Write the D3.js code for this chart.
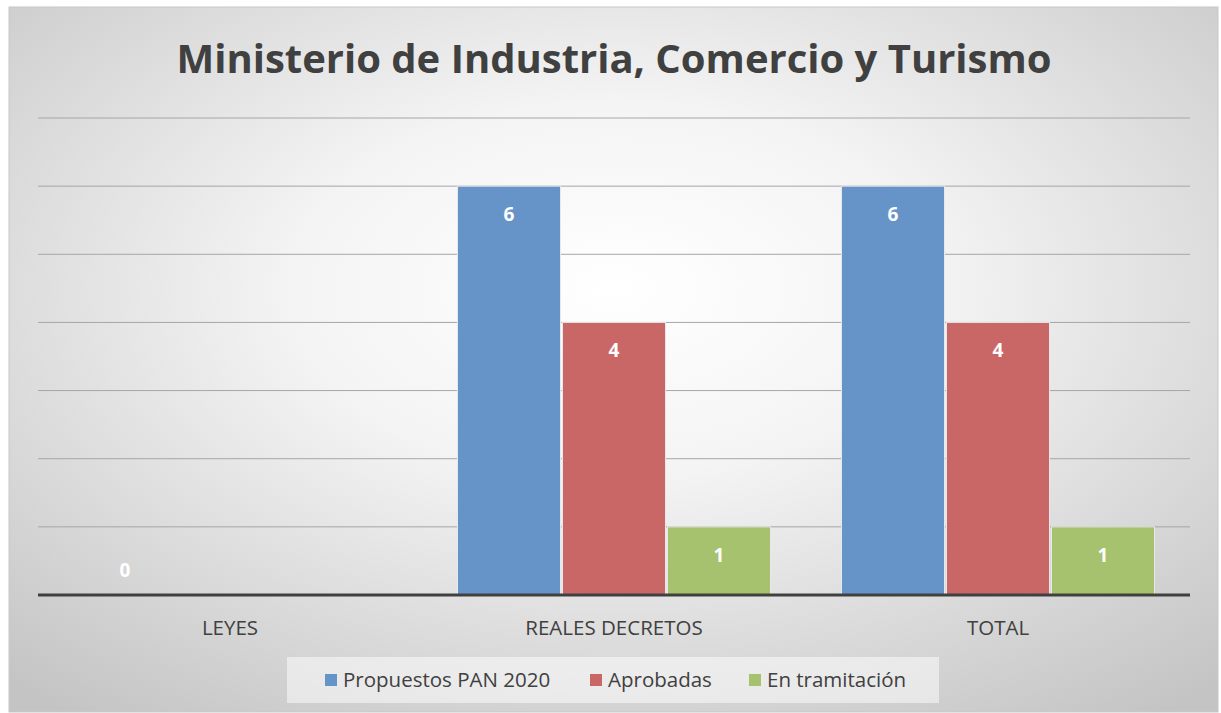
<!DOCTYPE html>
<html>
<head>
<meta charset="utf-8">
<script src="https://cdn.jsdelivr.net/npm/d3@7"></script>
<style>
  body { margin: 0; background: #fff; }
  text { font-family: "Open Sans", "Noto Sans", sans-serif; }
</style>
</head>
<body>
<script>
// chart values
var categories = ["LEYES", "REALES DECRETOS", "TOTAL"];
var seriesNames = ["Propuestos PAN 2020", "Aprobadas", "En tramitación"];
var propuestos = [0, 6, 6];
var aprobadas = [null, 4, 4];
var tramitacion = [null, 1, 1];
var yTicks = [0, 1, 2, 3, 4, 5, 6, 7];
var colors = ["#6794c8", "#c96766", "#a6c26e"];

var W = 1221, H = 713;
var svg = d3.select("body").append("svg").attr("width", W).attr("height", H);

// background gradient
var defs = svg.append("defs");
var grad = defs.append("radialGradient").attr("id", "bg")
  .attr("cx", "0.5").attr("cy", "0.4").attr("r", "0.75");
grad.append("stop").attr("offset", "0%").attr("stop-color", "#ffffff");
grad.append("stop").attr("offset", "35%").attr("stop-color", "#f4f4f4");
grad.append("stop").attr("offset", "100%").attr("stop-color", "#c4c4c4");

svg.append("rect").attr("x", 9).attr("y", 7).attr("width", 1209).attr("height", 705)
  .attr("fill", "url(#bg)").attr("stroke", "#c8c8c8").attr("stroke-width", 1);

// title
svg.append("text").attr("x", 614).attr("y", 73).attr("text-anchor", "middle")
  .attr("font-size", "40px").attr("font-weight", "bold").attr("fill", "#404040")
  .text("Ministerio de Industria, Comercio y Turismo");

var margin = {left: 38, right: 1190, top: 118, bottom: 595};

var x0 = d3.scaleBand().domain(categories).range([margin.left, margin.right]);
var x1 = d3.scaleBand().domain(seriesNames).range([0, x0.bandwidth()]).paddingInner(0.019).paddingOuter(0.338);
var y = d3.scaleLinear().domain([0, 7]).range([margin.bottom, margin.top]);

// gridlines
svg.append("g").selectAll("line").data(yTicks.slice(1)).enter().append("line")
  .attr("x1", margin.left).attr("x2", margin.right)
  .attr("y1", function(d) { return y(d); }).attr("y2", function(d) { return y(d); })
  .attr("stroke", "#a6a6a6").attr("stroke-width", 1);

var seriesData = [propuestos, aprobadas, tramitacion];
var bars = [];
seriesData.forEach(function(vals, s) {
  vals.forEach(function(v, i) {
    bars.push({s: s, name: seriesNames[s], cat: categories[i], v: v});
  });
});

var g = svg.append("g");
g.selectAll("rect").data(bars.filter(function(d) { return d.v !== null && d.v > 0; })).enter().append("rect")
  .attr("x", function(d) { return x0(d.cat) + x1(d.name); })
  .attr("y", function(d) { return y(d.v); })
  .attr("width", x1.bandwidth())
  .attr("height", function(d) { return y(0) - y(d.v); })
  .attr("fill", function(d) { return colors[d.s]; })
  .attr("stroke", "#e8e8e8").attr("stroke-width", 1);

g.selectAll("text").data(bars.filter(function(d) { return d.v !== null; })).enter().append("text")
  .attr("x", function(d) { return x0(d.cat) + x1(d.name) + x1.bandwidth() / 2; })
  .attr("y", function(d) { return d.v > 0 ? y(d.v) + 35 : y(0) - 18; })
  .attr("text-anchor", "middle").attr("font-size", "19px").attr("font-weight", "bold")
  .attr("fill", "#ffffff")
  .text(function(d) { return d.v; });

// axis line
svg.append("line").attr("x1", margin.left).attr("x2", margin.right)
  .attr("y1", y(0)).attr("y2", y(0)).attr("stroke", "#404040").attr("stroke-width", 3);

// category labels
svg.append("g").selectAll("text").data(categories).enter().append("text")
  .attr("x", function(d) { return x0(d) + x0.bandwidth() / 2; })
  .attr("y", 635).attr("text-anchor", "middle").attr("font-size", "20.5px").attr("fill", "#404040")
  .text(function(d) { return d; });

// legend
svg.append("rect").attr("x", 287).attr("y", 657).attr("width", 652).attr("height", 46)
  .attr("fill", "#ffffff").attr("fill-opacity", 0.5);
var legX = [325, 590, 749];
var leg = svg.append("g").selectAll("g").data(seriesNames).enter().append("g")
  .attr("transform", function(d, i) { return "translate(" + legX[i] + ",674)"; });
leg.append("rect").attr("width", 12).attr("height", 12)
  .attr("fill", function(d, i) { return colors[i]; });
leg.append("text").attr("x", 18).attr("y", 13).attr("font-size", "20.5px").attr("fill", "#404040")
  .text(function(d) { return d; });
</script>
</body>
</html>
